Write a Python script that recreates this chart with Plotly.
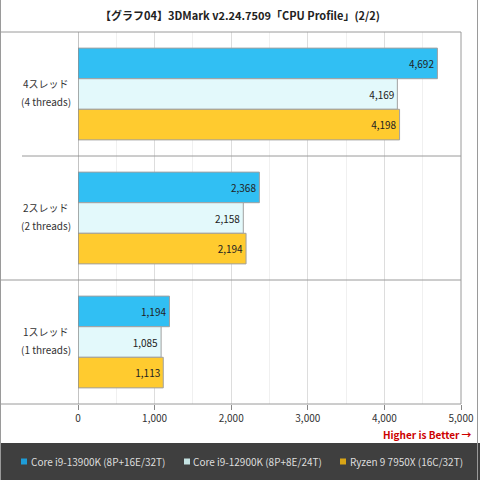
import plotly.graph_objects as go

categories = ["4スレッド", "2スレッド", "1スレッド"]
cat_sub = ["(4 threads)", "(2 threads)", "(1 threads)"]
series_names = ["Core i9-13900K (8P+16E/32T)", "Core i9-12900K (8P+8E/24T)", "Ryzen 9 7950X (16C/32T)"]
values_13900k = [4692, 2368, 1194]
values_12900k = [4169, 2158, 1085]
values_7950x = [4198, 2194, 1113]
colors = ["#31BFF3", "#E3F9FB", "#FFCB2F"]
legend_colors = ["#1E9CD7", "#C4E2E2", "#D8A416"]
x_ticks = [0, 1000, 2000, 3000, 4000, 5000]
x_ticklabels = ["0", "1,000", "2,000", "3,000", "4,000", "5,000"]

W, H = 480, 480
L, R, T, B = 78, 19, 32, 76
PW, PH = W - L - R, H - T - B

def px_x(px):
    return (px - L) / PW

def px_y(py):
    return (H - B - py) / PH

FONT = "Noto Sans CJK JP, Noto Sans, sans-serif"

fig = go.Figure()
for name, vals, col in zip(series_names, [values_13900k, values_12900k, values_7950x], colors):
    fig.add_trace(go.Bar(
        y=categories, x=vals, name=name, orientation="h",
        marker=dict(color=col, line=dict(color="#A0A0A0", width=1)),
        texttemplate="%{x:,}", textposition="inside", insidetextanchor="end",
        insidetextfont=dict(color="#222222", size=10, family=FONT),
        textangle=0, hoverinfo="skip", showlegend=False,
    ))

shapes = []
line_col = "#9A9A9A"
# outer frame left/right
shapes.append(dict(type="line", xref="paper", yref="paper", x0=px_x(0.5), x1=px_x(0.5), y0=px_y(0), y1=px_y(480), line=dict(color=line_col, width=1)))
shapes.append(dict(type="line", xref="paper", yref="paper", x0=px_x(477.5), x1=px_x(477.5), y0=px_y(0), y1=px_y(480), line=dict(color=line_col, width=1)))
# top and bottom plot lines
shapes.append(dict(type="line", xref="paper", yref="paper", x0=px_x(0), x1=1, y0=1, y1=1, line=dict(color=line_col, width=1)))
shapes.append(dict(type="line", xref="paper", yref="paper", x0=px_x(0), x1=1, y0=0, y1=0, line=dict(color=line_col, width=1)))
# right plot edge
shapes.append(dict(type="line", xref="paper", yref="paper", x0=1, x1=1, y0=0, y1=1, line=dict(color=line_col, width=1)))
# category separators
shapes.append(dict(type="line", xref="paper", yref="y", x0=px_x(22), x1=1, y0=0.5, y1=0.5, line=dict(color=line_col, width=1)))
shapes.append(dict(type="line", xref="paper", yref="y", x0=px_x(0), x1=1, y0=1.5, y1=1.5, line=dict(color=line_col, width=1)))
# dark legend band
shapes.append(dict(type="rect", xref="paper", yref="paper", x0=px_x(0), x1=px_x(480), y0=px_y(443), y1=px_y(480), fillcolor="#3F3F3F", line=dict(width=0), layer="below"))

annotations = []
for c, s in zip(categories, cat_sub):
    annotations.append(dict(xref="paper", yref="y", x=px_x(46), y=c, text=c, showarrow=False, xanchor="center", yanchor="middle", yshift=11, font=dict(size=10, color="#333333", family=FONT)))
    annotations.append(dict(xref="paper", yref="y", x=px_x(46), y=c, text=s, showarrow=False, xanchor="center", yanchor="middle", yshift=-7, font=dict(size=10, color="#333333", family=FONT)))
annotations.append(dict(xref="paper", yref="paper", x=px_x(474), y=px_y(434), text="<b>Higher is Better →</b>", showarrow=False, xanchor="right", yanchor="middle", font=dict(size=10, color="#CC0000", family=FONT)))

# legend (custom, inside dark band)
legend_sq_x = [21, 184, 340]
legend_txt_x = [29, 191, 348]
for name, lc, sx, tx in zip(series_names, legend_colors, legend_sq_x, legend_txt_x):
    shapes.append(dict(type="rect", xref="paper", yref="paper", x0=px_x(sx), x1=px_x(sx + 6), y0=px_y(458.5), y1=px_y(464.5), fillcolor=lc, line=dict(width=0)))
    annotations.append(dict(xref="paper", yref="paper", x=px_x(tx), y=px_y(461.5), text=name, showarrow=False, xanchor="left", yanchor="middle", font=dict(size=10, color="#DDDDDD", family=FONT)))

fig.update_layout(
    width=W, height=H, margin=dict(l=L, r=R, t=T, b=B, autoexpand=False),
    paper_bgcolor="white", plot_bgcolor="white",
    barmode="group", bargap=0.26, bargroupgap=0,
    font=dict(family=FONT, size=10, color="#333333"),
    title=dict(text="<b>【グラフ04】3DMark v2.24.7509「CPU Profile」(2/2)</b>", x=0.5, xanchor="center", y=1 - 16 / H, yanchor="middle", font=dict(size=11, color="#222222", family=FONT)),
    xaxis=dict(range=[0, 5000], tickvals=x_ticks, ticktext=x_ticklabels, showgrid=True, gridcolor="#DDDDDD", gridwidth=1,
               minor=dict(dtick=500, tick0=0, showgrid=True, gridcolor="#F0F0F0"),
               ticks="outside", ticklen=5, tickcolor="#888888", showline=False, zeroline=False,
               tickfont=dict(size=10, color="#333333", family=FONT), fixedrange=True),
    yaxis=dict(categoryorder="array", categoryarray=categories, range=[2.5, -0.5], showticklabels=False,
               showgrid=False, zeroline=False, showline=False, fixedrange=True),
    shapes=shapes, annotations=annotations,
    showlegend=False,
)
# y axis line at x=0
fig.add_shape(type="line", xref="x", yref="paper", x0=0, x1=0, y0=0, y1=1, line=dict(color="#888888", width=1))

fig.write_html("out.html", config={"displayModeBar": False},
               post_script="document.body.style.margin='0px';document.body.style.overflow='hidden';")
